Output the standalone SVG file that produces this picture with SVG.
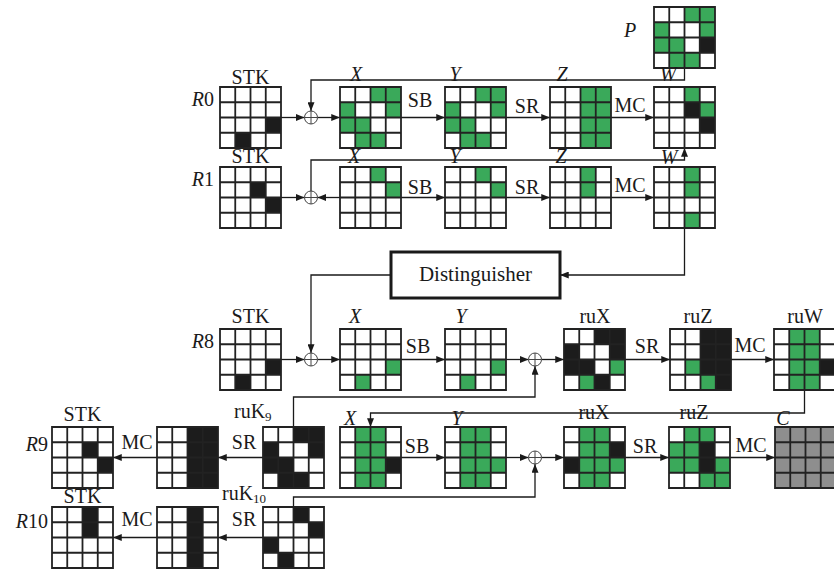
<svg xmlns="http://www.w3.org/2000/svg" width="834" height="571" viewBox="0 0 834 571" font-family="'Liberation Serif', 'Times New Roman', serif">
  <style>
    text { font-family: "Liberation Serif", "Times New Roman", serif; font-size: 20px; fill: #1a1a1a; }
    .it { font-style: italic; }
    .mid { text-anchor: middle; }
    .end { text-anchor: end; }
    .gl { fill: none; stroke: #222; stroke-width: 1.8; }
    .ln { fill: none; stroke: #1a1a1a; stroke-width: 1.3; }
    .arr { marker-end: url(#ah); }
    .xo { fill: #fff; stroke: #444; stroke-width: 1; }
    .box { fill: #fff; stroke: #1a1a1a; stroke-width: 3; }
  </style>
  <defs>
    <marker id="ah" viewBox="0 0 10 8" refX="10" refY="4" markerWidth="9" markerHeight="7" markerUnits="userSpaceOnUse" orient="auto">
      <path d="M0,0L10,4L0,8Z" fill="#1a1a1a"/>
    </marker>
    <!-- 4x4 state grid lines -->
    <path id="grid" class="gl" d="M0 0H61V61H0ZM15.25 0V61M30.5 0V61M45.75 0V61M0 15.25H61M0 30.5H61M0 45.75H61"/>
    <!-- single cells and full columns -->
    <rect id="G" width="15.25" height="15.25" fill="#3aa95a"/>
    <rect id="K" width="15.25" height="15.25" fill="#1c1c1c"/>
    <rect id="GC" width="15.25" height="61" fill="#3aa95a"/>
    <rect id="KC" width="15.25" height="61" fill="#1c1c1c"/>
    <g id="xor" class="xo"><circle r="6.5"/><path d="M-6.5 0H6.5M0 -6.5V6.5"/></g>
  </defs>

  <!-- connectors -->
  <g id="connectors">
    <!-- round 0 -->
    <path class="ln arr" d="M281 117.5H304.5"/>
    <path class="ln arr" d="M317.5 117.5H340"/>
    <path class="ln arr" d="M401 117.5H445"/>
    <path class="ln arr" d="M506 117.5H550"/>
    <path class="ln arr" d="M611 117.5H654"/>
    <path class="ln arr" d="M684.5 68V80H311V111"/>
    <!-- round 1 -->
    <path class="ln arr" d="M281 197.5H304.5"/>
    <path class="ln arr" d="M340 197.5H317.5"/>
    <path class="ln arr" d="M401 197.5H445"/>
    <path class="ln arr" d="M506 197.5H550"/>
    <path class="ln arr" d="M611 197.5H654"/>
    <path class="ln arr" d="M311 191V160H684.5V148"/>
    <path class="ln arr" d="M684.5 228V275H560"/>
    <path class="ln arr" d="M391 275H311V353"/>
    <!-- round 8 -->
    <path class="ln arr" d="M281 359.5H304.5"/>
    <path class="ln arr" d="M317.5 359.5H340"/>
    <path class="ln arr" d="M401 359.5H445"/>
    <path class="ln arr" d="M506 359.5H528.5"/>
    <path class="ln arr" d="M541.5 359.5H564"/>
    <path class="ln arr" d="M625 359.5H670"/>
    <path class="ln arr" d="M731 359.5H774"/>
    <path class="ln arr" d="M293.5 427V397H535V366"/>
    <path class="ln arr" d="M804.5 390V413H370.5V427"/>
    <!-- round 9 -->
    <path class="ln arr" d="M263 457.5H218"/>
    <path class="ln arr" d="M157 457.5H113"/>
    <path class="ln arr" d="M401 457.5H445"/>
    <path class="ln arr" d="M506 457.5H528.5"/>
    <path class="ln arr" d="M541.5 457.5H564"/>
    <path class="ln arr" d="M625 457.5H669"/>
    <path class="ln arr" d="M730 457.5H775"/>
    <path class="ln arr" d="M293.5 507V497H535V464"/>
    <!-- round 10 -->
    <path class="ln arr" d="M263 537.5H218"/>
    <path class="ln arr" d="M157 537.5H113"/>
  </g>

  <!-- operation labels -->
  <g id="op-labels">
    <text x="420" y="107" class="mid">SB</text>
    <text x="527" y="113" class="mid">SR</text>
    <text x="630" y="112" class="mid">MC</text>
    <text x="420" y="194" class="mid">SB</text>
    <text x="527" y="194" class="mid">SR</text>
    <text x="630" y="192" class="mid">MC</text>
    <text x="418" y="353" class="mid">SB</text>
    <text x="647" y="353" class="mid">SR</text>
    <text x="750" y="352" class="mid">MC</text>
    <text x="417" y="453" class="mid">SB</text>
    <text x="645" y="453" class="mid">SR</text>
    <text x="751" y="452" class="mid">MC</text>
    <text x="244" y="449" class="mid">SR</text>
    <text x="137" y="449" class="mid">MC</text>
    <text x="244" y="526" class="mid">SR</text>
    <text x="137" y="526" class="mid">MC</text>
  </g>

  <!-- round labels -->
  <g id="round-labels">
    <text x="214" y="106" class="end"><tspan class="it">R</tspan>0</text>
    <text x="214" y="186" class="end"><tspan class="it">R</tspan>1</text>
    <text x="214" y="348" class="end"><tspan class="it">R</tspan>8</text>
    <text x="48" y="451" class="end"><tspan class="it">R</tspan>9</text>
    <text x="48" y="528" class="end"><tspan class="it">R</tspan>10</text>
  </g>

  <!-- plaintext P -->
  <g id="P" transform="translate(654,7)">
    <use href="#G" x="30.5" y="0"/><use href="#G" x="45.75" y="0"/>
    <use href="#G" x="0" y="15.25"/><use href="#G" x="45.75" y="15.25"/>
    <use href="#G" x="0" y="30.5"/><use href="#G" x="15.25" y="30.5"/><use href="#K" x="45.75" y="30.5"/>
    <use href="#G" x="15.25" y="45.75"/><use href="#G" x="30.5" y="45.75"/>
    <use href="#grid"/>
  </g>
  <text x="630" y="37" class="it mid">P</text>

  <!-- round 0 -->
  <g id="r0-stk">
    <text x="250.5" y="84" class="mid">STK</text>
    <g transform="translate(220,87)">
      <use href="#K" x="45.75" y="30.5"/><use href="#K" x="15.25" y="45.75"/>
      <use href="#grid"/>
    </g>
  </g>
  <g id="r0-xor"><use href="#xor" x="311" y="117.5"/></g>
  <g id="r0-x">
    <text x="356" y="81" class="it mid">X</text>
    <g transform="translate(340,87)">
      <use href="#G" x="30.5" y="0"/><use href="#G" x="45.75" y="0"/>
      <use href="#G" x="0" y="15.25"/><use href="#G" x="45.75" y="15.25"/>
      <use href="#G" x="0" y="30.5"/><use href="#G" x="15.25" y="30.5"/>
      <use href="#G" x="15.25" y="45.75"/><use href="#G" x="30.5" y="45.75"/>
      <use href="#grid"/>
    </g>
  </g>
  <g id="r0-y">
    <text x="455" y="81" class="it mid">Y</text>
    <g transform="translate(445,87)">
      <use href="#G" x="30.5" y="0"/><use href="#G" x="45.75" y="0"/>
      <use href="#G" x="0" y="15.25"/><use href="#G" x="45.75" y="15.25"/>
      <use href="#G" x="0" y="30.5"/><use href="#G" x="15.25" y="30.5"/>
      <use href="#G" x="15.25" y="45.75"/><use href="#G" x="30.5" y="45.75"/>
      <use href="#grid"/>
    </g>
  </g>
  <g id="r0-z">
    <text x="562" y="81" class="it mid">Z</text>
    <g transform="translate(550,87)">
      <use href="#GC" x="30.5"/><use href="#GC" x="45.75"/>
      <use href="#grid"/>
    </g>
  </g>
  <g id="r0-w">
    <text x="668" y="81" class="it mid">W</text>
    <g transform="translate(654,87)">
      <use href="#G" x="30.5" y="0"/>
      <use href="#K" x="30.5" y="15.25"/><use href="#G" x="45.75" y="15.25"/>
      <use href="#K" x="45.75" y="30.5"/>
      <use href="#grid"/>
    </g>
  </g>

  <!-- round 1 -->
  <g id="r1-stk">
    <text x="250.5" y="163" class="mid">STK</text>
    <g transform="translate(220,167)">
      <use href="#K" x="30.5" y="15.25"/><use href="#K" x="45.75" y="30.5"/>
      <use href="#grid"/>
    </g>
  </g>
  <g id="r1-xor"><use href="#xor" x="311" y="197.5"/></g>
  <g id="r1-x">
    <text x="354" y="163" class="it mid">X</text>
    <g transform="translate(340,167)">
      <use href="#G" x="30.5" y="0"/><use href="#G" x="45.75" y="15.25"/>
      <use href="#grid"/>
    </g>
  </g>
  <g id="r1-y">
    <text x="455" y="163" class="it mid">Y</text>
    <g transform="translate(445,167)">
      <use href="#G" x="30.5" y="0"/><use href="#G" x="45.75" y="15.25"/>
      <use href="#grid"/>
    </g>
  </g>
  <g id="r1-z">
    <text x="561" y="163" class="it mid">Z</text>
    <g transform="translate(550,167)">
      <use href="#G" x="30.5" y="0"/><use href="#G" x="30.5" y="15.25"/>
      <use href="#grid"/>
    </g>
  </g>
  <g id="r1-w">
    <text x="669" y="164" class="it mid">W</text>
    <g transform="translate(654,167)">
      <use href="#G" x="30.5" y="0"/><use href="#G" x="30.5" y="15.25"/><use href="#G" x="30.5" y="45.75"/>
      <use href="#grid"/>
    </g>
  </g>

  <!-- distinguisher -->
  <g id="distinguisher">
    <rect class="box" x="391" y="252" width="169" height="46"/>
    <text x="475.5" y="281" class="mid" style="font-size:21px">Distinguisher</text>
  </g>

  <!-- round 8 -->
  <g id="r8-stk">
    <text x="250.5" y="323" class="mid">STK</text>
    <g transform="translate(220,329)">
      <use href="#K" x="45.75" y="30.5"/><use href="#K" x="15.25" y="45.75"/>
      <use href="#grid"/>
    </g>
  </g>
  <g id="r8-xor1"><use href="#xor" x="311" y="359.5"/></g>
  <g id="r8-x">
    <text x="355" y="323" class="it mid">X</text>
    <g transform="translate(340,329)">
      <use href="#G" x="45.75" y="30.5"/><use href="#G" x="15.25" y="45.75"/>
      <use href="#grid"/>
    </g>
  </g>
  <g id="r8-y">
    <text x="461" y="323" class="it mid">Y</text>
    <g transform="translate(445,329)">
      <use href="#G" x="45.75" y="30.5"/><use href="#G" x="15.25" y="45.75"/>
      <use href="#grid"/>
    </g>
  </g>
  <g id="r8-xor2"><use href="#xor" x="535" y="359.5"/></g>
  <g id="r8-rux">
    <text x="595" y="323" class="mid">ruX</text>
    <g transform="translate(564,329)">
      <use href="#K" x="30.5" y="0"/><use href="#K" x="45.75" y="0"/>
      <use href="#K" x="0" y="15.25"/><use href="#K" x="45.75" y="15.25"/>
      <use href="#K" x="0" y="30.5"/><use href="#K" x="15.25" y="30.5"/><use href="#G" x="45.75" y="30.5"/>
      <use href="#G" x="15.25" y="45.75"/><use href="#K" x="30.5" y="45.75"/>
      <use href="#grid"/>
    </g>
  </g>
  <g id="r8-ruz">
    <text x="698" y="323" class="mid">ruZ</text>
    <g transform="translate(670,329)">
      <use href="#KC" x="45.75"/>
      <use href="#K" x="30.5" y="0"/><use href="#K" x="30.5" y="15.25"/><use href="#K" x="30.5" y="30.5"/>
      <use href="#G" x="15.25" y="30.5"/><use href="#G" x="30.5" y="45.75"/>
      <use href="#grid"/>
    </g>
  </g>
  <g id="r8-ruw">
    <text x="805" y="323" class="mid">ruW</text>
    <g transform="translate(774,329)">
      <use href="#GC" x="15.25"/><use href="#GC" x="30.5"/>
      <use href="#K" x="45.75" y="30.5"/>
      <use href="#grid"/>
    </g>
  </g>

  <!-- round 9 -->
  <g id="r9-stk">
    <text x="82.5" y="421" class="mid">STK</text>
    <g transform="translate(52,427)">
      <use href="#K" x="30.5" y="15.25"/><use href="#K" x="45.75" y="30.5"/>
      <use href="#grid"/>
    </g>
  </g>
  <g id="r9-mc">
    <g transform="translate(157,427)">
      <use href="#KC" x="30.5"/><use href="#KC" x="45.75"/>
      <use href="#grid"/>
    </g>
  </g>
  <g id="r9-ruk">
    <text x="234" y="418">ruK<tspan dy="3" style="font-size:13px">9</tspan></text>
    <g transform="translate(263,427)">
      <use href="#K" x="30.5" y="0"/><use href="#K" x="45.75" y="0"/>
      <use href="#K" x="0" y="15.25"/><use href="#K" x="45.75" y="15.25"/>
      <use href="#K" x="0" y="30.5"/><use href="#K" x="15.25" y="30.5"/>
      <use href="#K" x="15.25" y="45.75"/><use href="#K" x="30.5" y="45.75"/>
      <use href="#grid"/>
    </g>
  </g>
  <g id="r9-x">
    <text x="350" y="425" class="it mid">X</text>
    <g transform="translate(340,427)">
      <use href="#GC" x="15.25"/><use href="#GC" x="30.5"/>
      <use href="#K" x="45.75" y="30.5"/>
      <use href="#grid"/>
    </g>
  </g>
  <g id="r9-y">
    <text x="457" y="425" class="it mid">Y</text>
    <g transform="translate(445,427)">
      <use href="#GC" x="15.25"/><use href="#GC" x="30.5"/>
      <use href="#G" x="45.75" y="30.5"/>
      <use href="#grid"/>
    </g>
  </g>
  <g id="r9-xor"><use href="#xor" x="535" y="457.5"/></g>
  <g id="r9-rux">
    <text x="594" y="419" class="mid">ruX</text>
    <g transform="translate(564,427)">
      <use href="#GC" x="15.25"/><use href="#GC" x="30.5"/>
      <use href="#K" x="45.75" y="15.25"/>
      <use href="#K" x="0" y="30.5"/><use href="#G" x="45.75" y="30.5"/>
      <use href="#grid"/>
    </g>
  </g>
  <g id="r9-ruz">
    <text x="694" y="419" class="mid">ruZ</text>
    <g transform="translate(669,427)">
      <use href="#G" x="15.25" y="0"/><use href="#G" x="30.5" y="0"/>
      <use href="#G" x="0" y="15.25"/><use href="#G" x="15.25" y="15.25"/><use href="#K" x="30.5" y="15.25"/>
      <use href="#G" x="0" y="30.5"/><use href="#G" x="15.25" y="30.5"/><use href="#K" x="30.5" y="30.5"/><use href="#G" x="45.75" y="30.5"/>
      <use href="#G" x="30.5" y="45.75"/><use href="#G" x="45.75" y="45.75"/>
      <use href="#grid"/>
    </g>
  </g>
  <g id="r9-c">
    <text x="783" y="425" class="it mid">C</text>
    <g transform="translate(775,427)">
      <rect width="61" height="61" fill="#8e8e8e"/>
      <use href="#grid"/>
    </g>
  </g>

  <!-- round 10 -->
  <g id="r10-stk">
    <text x="82.5" y="503" class="mid">STK</text>
    <g transform="translate(52,507)">
      <use href="#K" x="30.5" y="0"/><use href="#K" x="30.5" y="15.25"/>
      <use href="#grid"/>
    </g>
  </g>
  <g id="r10-mc">
    <g transform="translate(157,507)">
      <use href="#KC" x="30.5"/>
      <use href="#grid"/>
    </g>
  </g>
  <g id="r10-ruk">
    <text x="222" y="500">ruK<tspan dy="3" style="font-size:13px">10</tspan></text>
    <g transform="translate(263,507)">
      <use href="#K" x="30.5" y="0"/><use href="#K" x="45.75" y="15.25"/>
      <use href="#K" x="0" y="30.5"/><use href="#K" x="15.25" y="45.75"/>
      <use href="#grid"/>
    </g>
  </g>
</svg>
